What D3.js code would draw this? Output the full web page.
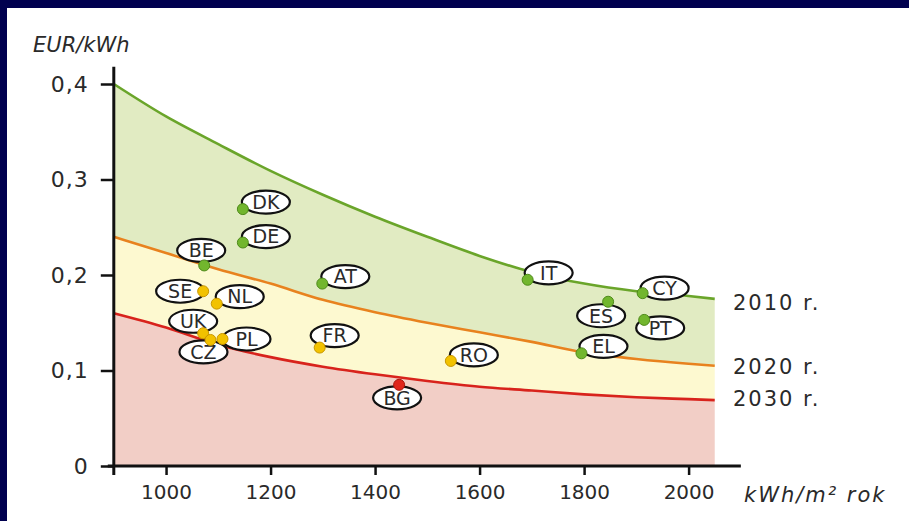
<!DOCTYPE html>
<html><head><meta charset="utf-8">
<script src="https://cdn.jsdelivr.net/npm/d3@7"></script>
<style>html,body{margin:0;padding:0;background:#00004f;overflow:hidden}</style>
</head><body>
<svg id="c" width="909" height="521"></svg>
<script>
// ---- data ----
const curveX   = [900, 1000, 1100, 1200, 1300, 1400, 1500, 1600, 1700, 1800, 1900, 2000, 2050];
const y2010    = [0.400, 0.366, 0.337, 0.309, 0.284, 0.261, 0.240, 0.220, 0.203, 0.191, 0.183, 0.178, 0.175];
const y2020    = [0.240, 0.223, 0.206, 0.191, 0.174, 0.161, 0.150, 0.140, 0.130, 0.119, 0.112, 0.107, 0.105];
const y2030    = [0.160, 0.145, 0.127, 0.114, 0.104, 0.096, 0.089, 0.083, 0.079, 0.075, 0.072, 0.070, 0.069];
const seriesNames = ["2010 r.", "2020 r.", "2030 r."];

const countries = ["DK","DE","BE","AT","SE","NL","UK","CZ","PL","FR","IT","CY","ES","PT","EL","RO","BG"];
const kwh       = [1147, 1147, 1073, 1299, 1071, 1097, 1071, 1085, 1108, 1294, 1692, 1912, 1846, 1915, 1795, 1545, 1446];
const price     = [0.269,0.234,0.210,0.191,0.183,0.170,0.139,0.132,0.133,0.124,0.195,0.181,0.172,0.153,0.118,0.110,0.085];
const group     = ["g","g","g","g","y","y","y","y","y","y","g","g","g","g","g","y","r"];

const xTicks = [1000, 1200, 1400, 1600, 1800, 2000];
const yTicks = [0, 0.1, 0.2, 0.3, 0.4];
const yTickLabels = ["0", "0,1", "0,2", "0,3", "0,4"];
const yTitle = "EUR/kWh";
const xTitle = "kWh/m² rok";

// ---- layout / style ----
const labelOffset = {DK:[23,-7],DE:[23,-6],BE:[-3,-15],AT:[23,-7],SE:[-23,0],NL:[23,-7],UK:[-10,-12],
  CZ:[-7,12],PL:[24,0],FR:[15,-12],IT:[21,-7],CY:[22,-5],ES:[-7,14],PT:[16,8],EL:[22,-7],RO:[23,-6],BG:[-2,13]};
const dotFill = {g:"#72b62e", y:"#f2c200", r:"#e0261c"};
const dotStroke = {g:"#4e8a1a", y:"#c89600", r:"#a81810"};
const FONT = "DejaVu Sans, Verdana, sans-serif";
const TXT = "#2a2a2a";

const svg = d3.select("#c");
svg.append("rect").attr("x",7).attr("y",8).attr("width",902).attr("height",513).attr("fill","#fff");

const x = d3.scaleLinear().domain([900, 2000]).range([113.8, 688.6]);
const y = d3.scaleLinear().domain([0, 0.4]).range([466, 84]);

const pts = curveX.map((cx,i)=>({x:cx, a:y2010[i], b:y2020[i], c:y2030[i]}));
const cur = d3.curveMonotoneX;

const area = (lo, hi) => d3.area().curve(cur).x(d=>x(d.x)).y0(lo).y1(hi);
svg.append("path").datum(pts).attr("d", area(d=>y(d.b), d=>y(d.a))).attr("fill","#e1ebc2");
svg.append("path").datum(pts).attr("d", area(d=>y(d.c), d=>y(d.b))).attr("fill","#fdf9d0");
svg.append("path").datum(pts).attr("d", area(()=>y(0), d=>y(d.c))).attr("fill","#f2cec6");

const line = key => d3.line().curve(cur).x(d=>x(d.x)).y(d=>y(d[key]));
[["a","#6aa52a"],["b","#e8821e"],["c","#d8231c"]].forEach(([k,col])=>{
  svg.append("path").datum(pts).attr("d", line(k)).attr("fill","none").attr("stroke",col).attr("stroke-width",2.6);
});

// axes
const gx = svg.append("g").attr("transform",`translate(0,${y(0)})`)
  .call(d3.axisBottom(x).tickValues(xTicks).tickSize(9).tickPadding(9).tickFormat(d3.format("d")));
gx.select(".domain").remove();
gx.selectAll(".tick line").attr("stroke","#111").attr("stroke-width",2.5);
gx.selectAll("text").attr("font-family",FONT).attr("font-size",20).attr("fill",TXT).attr("dy","0.75em");

const gy = svg.append("g").attr("transform",`translate(${x(900)},0)`)
  .call(d3.axisLeft(y).tickValues(yTicks).tickSize(13).tickPadding(12).tickFormat((d,i)=>yTickLabels[i]));
gy.select(".domain").remove();
gy.selectAll(".tick line").attr("stroke","#111").attr("stroke-width",2.5);
gy.selectAll("text").attr("font-family",FONT).attr("font-size",22).attr("letter-spacing",1).attr("fill",TXT);

svg.append("line").attr("x1",x(900)).attr("x2",x(900)).attr("y1",y(0.418)).attr("y2",y(0)+9)
  .attr("stroke","#111").attr("stroke-width",3);
svg.append("line").attr("x1",x(900)-6).attr("x2",x(2100)).attr("y1",y(0)).attr("y2",y(0))
  .attr("stroke","#111").attr("stroke-width",3);

svg.append("text").attr("x",33).attr("y",52).text(yTitle).attr("font-family",FONT).attr("font-style","italic")
  .attr("font-size",21).attr("fill",TXT);
svg.append("text").attr("x",744).attr("y",502).text(xTitle).attr("font-family",FONT).attr("font-style","italic")
  .attr("font-size",21).attr("letter-spacing",2).attr("fill",TXT);

// series labels at right
const endVals = [y2010[y2010.length-1], y2020[y2020.length-1], y2030[y2030.length-1]];
const endDy = [4, 1, -1.5];
seriesNames.forEach((s,i)=>{
  svg.append("text").attr("x",733).attr("y",y(endVals[i])+endDy[i]).attr("dy","0.35em").text(s)
    .attr("font-family",FONT).attr("font-size",21).attr("letter-spacing",2).attr("fill",TXT);
});

// country labels + dots
const data = countries.map((c,i)=>({c, x:kwh[i], y:price[i], g:group[i]}));
const lab = svg.append("g");
data.forEach(d=>{
  const [dx,dy] = labelOffset[d.c];
  const cx = x(d.x)+dx, cy = y(d.y)+dy;
  lab.append("ellipse").attr("cx",cx).attr("cy",cy).attr("rx",24).attr("ry",11.5)
    .attr("fill","#fff").attr("stroke","#111").attr("stroke-width",2.2);
  lab.append("text").attr("x",cx).attr("y",cy).attr("dy","0.36em").attr("text-anchor","middle").text(d.c)
    .attr("font-family",FONT).attr("font-size",19).attr("fill",TXT);
});
svg.append("g").selectAll("circle").data(data).join("circle")
  .attr("cx",d=>x(d.x)).attr("cy",d=>y(d.y)).attr("r",5.5)
  .attr("fill",d=>dotFill[d.g]).attr("stroke",d=>dotStroke[d.g]).attr("stroke-width",1);
</script>
</body></html>
